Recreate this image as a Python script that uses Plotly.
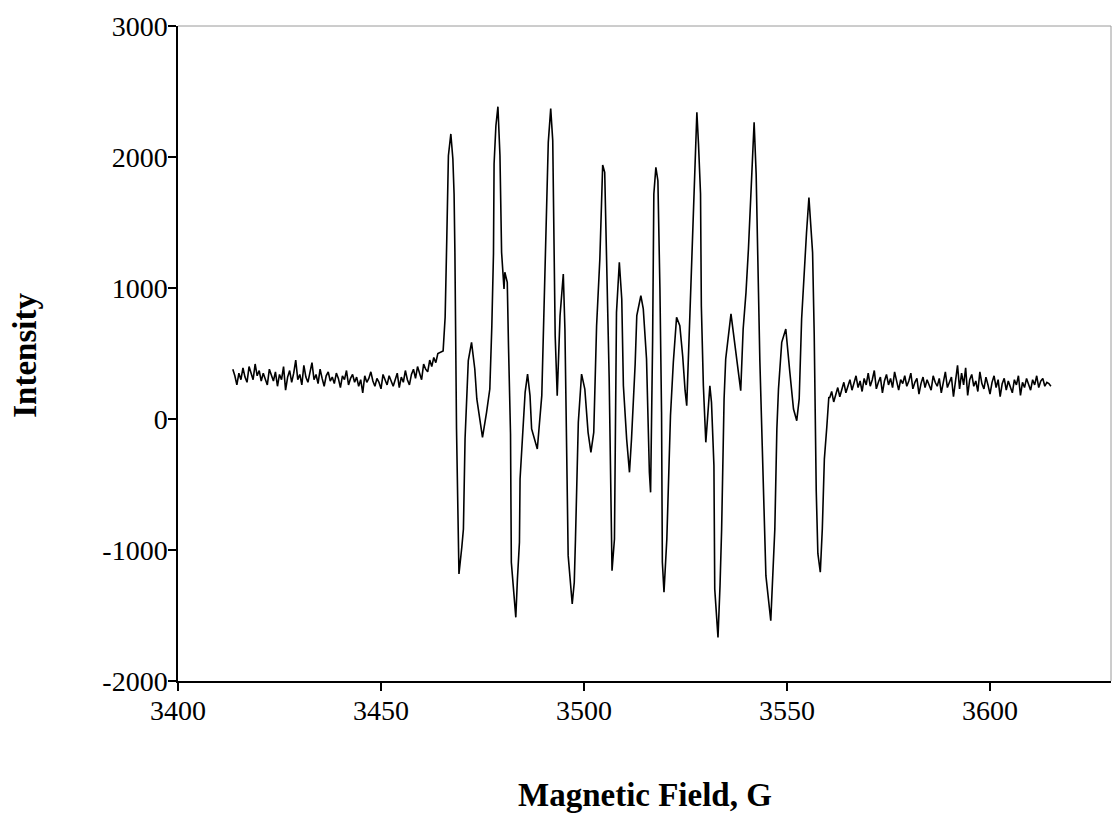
import plotly.graph_objects as go

# ---- data (field in G, intensity in a.u.) ----
left_field = [
    3413.5, 3414.0, 3414.5, 3415.0, 3415.5, 3416.0, 3416.5, 3417.0, 3417.5, 3418.0,
    3418.5, 3419.0, 3419.5, 3420.0, 3420.5, 3421.0, 3421.5, 3422.0, 3422.5, 3423.0,
    3423.5, 3424.0, 3424.5, 3425.0, 3425.5, 3426.0, 3426.5, 3427.0, 3427.5, 3428.0,
    3428.5, 3429.0, 3429.5, 3430.0, 3430.5, 3431.0, 3431.5, 3432.0, 3432.5, 3433.0,
    3433.5, 3434.0, 3434.5, 3435.0, 3435.5, 3436.0, 3436.5, 3437.0, 3437.5, 3438.0,
    3438.5, 3439.0, 3439.5, 3440.0, 3440.5, 3441.0, 3441.5, 3442.0, 3442.5, 3443.0,
    3443.5, 3444.0, 3444.5, 3445.0, 3445.5, 3446.0, 3446.5, 3447.0, 3447.5, 3448.0,
    3448.5, 3449.0, 3449.5, 3450.0, 3450.5, 3451.0, 3451.5, 3452.0, 3452.5, 3453.0,
    3453.5, 3454.0, 3454.5, 3455.0, 3455.5, 3456.0, 3456.5, 3457.0, 3457.5, 3458.0,
    3458.5, 3459.0, 3459.5, 3460.0, 3460.5, 3461.0, 3461.5, 3462.0, 3462.5, 3463.0,
    3463.5, 3464.0,
]
left_intensity = [
    380, 330, 260, 350, 300, 390, 320, 280, 400, 350,
    300, 420, 330, 370, 290, 350, 310, 260, 380, 330,
    290, 360, 250, 340, 300, 400, 220, 320, 370, 280,
    350, 450, 300, 340, 260, 410, 320, 280, 360, 430,
    300, 340, 270, 380, 310, 250, 330, 360, 290, 320,
    270, 350, 310, 240, 330, 300, 370, 260, 310, 340,
    280, 320, 250, 300, 200, 330, 280, 310, 360, 290,
    250, 310, 280, 230, 340, 300, 260, 330, 290, 250,
    300, 350, 240, 320, 280, 370, 300, 260, 340, 380,
    310, 400, 350, 300, 420, 380, 360, 450, 400, 470,
    430, 500,
]

signal_field = [
    3465.3, 3465.8, 3466.2, 3466.6, 3467.2, 3467.7, 3468.0, 3468.2, 3468.6, 3469.0,
    3469.2, 3469.9, 3470.3, 3470.7, 3471.5, 3472.3, 3473.1, 3473.6, 3474.4, 3475.0,
    3476.0, 3476.8, 3477.3, 3477.7, 3477.85, 3478.3, 3478.8, 3479.3, 3479.7, 3480.3,
    3480.5, 3481.1, 3481.4, 3481.9, 3482.1, 3483.2, 3483.6, 3484.1, 3484.25, 3484.9,
    3485.5, 3486.1, 3486.7, 3487.1, 3488.5, 3489.6, 3490.4, 3491.2, 3491.8, 3492.3,
    3492.9, 3493.4, 3494.1, 3494.9, 3495.3, 3495.7, 3496.1, 3497.1, 3497.6, 3497.9,
    3498.2, 3498.6, 3499.4, 3500.2, 3501.0, 3501.7, 3502.4, 3503.1, 3503.9, 3504.3,
    3504.6, 3505.1, 3505.6, 3506.2, 3506.9, 3507.5, 3508.0, 3508.7, 3509.3, 3509.7,
    3510.5, 3511.2, 3511.7, 3512.1, 3512.6, 3513.0, 3514.0, 3514.6, 3515.4, 3516.1,
    3516.4, 3516.9, 3517.2, 3517.7, 3518.2, 3518.7, 3519.1, 3519.3, 3519.7, 3520.4,
    3520.8, 3521.3, 3522.0, 3522.8, 3523.6, 3524.3, 3524.9, 3525.3, 3526.1, 3526.5,
    3527.2, 3527.8, 3528.2, 3528.7, 3528.9, 3529.4, 3530.0, 3531.0, 3531.4, 3532.0,
    3532.2, 3533.0, 3533.5, 3533.9, 3534.5, 3534.9, 3536.2, 3536.9, 3537.6, 3538.6,
    3539.2, 3539.9, 3540.5, 3541.3, 3541.9, 3542.4, 3542.9, 3543.3, 3543.9, 3544.8,
    3546.0, 3546.6, 3547.0, 3547.5, 3547.9, 3548.7, 3549.7, 3550.7, 3551.6, 3552.4,
    3553.0, 3553.6, 3554.4, 3554.8, 3555.4, 3556.3, 3556.7, 3557.2, 3557.6, 3558.2,
    3558.7, 3559.2, 3559.8, 3560.3,
]
signal_intensity = [
    520, 779, 1374, 2010, 2176, 1985, 1718, 1275, -76, -840,
    -1183, -979, -840, -153, 445, 585, 382, 153, 0, -140,
    51, 229, 712, 1260, 1947, 2239, 2384, 2010, 1272, 992,
    1120, 1043, 560, -115, -1094, -1514, -1221, -941, -458, -127,
    204, 343, 178, -76, -229, 178, 1120, 2112, 2369, 2125,
    636, 178, 789, 1107, 687, -25, -1043, -1412, -1247, -916,
    -407, -25, 343, 229, -102, -254, -102, 712, 1221, 1743,
    1939, 1883, 1094, 305, -1158, -916, 814, 1196, 916, 254,
    -153, -407, -153, 76, 420, 789, 941, 840, 458, -407,
    -560, 600, 1718, 1921, 1819, 992, 51, -1094, -1323, -916,
    -407, 25, 433, 776, 712, 483, 216, 102, 814, 1170,
    1807, 2341, 2099, 1718, 865, 254, -178, 254, 127, -356,
    -1298, -1667, -1272, -840, 153, 458, 802, 636, 483, 216,
    687, 967, 1298, 1896, 2265, 1870, 1069, 458, -204, -1196,
    -1540, -1069, -840, -76, 229, 585, 687, 356, 76, -13,
    153, 763, 1247, 1420, 1691, 1270, 645, -550, -1026, -1170,
    -836, -306, -61, 168,
]

right_field = [
    3560.5, 3561.0, 3561.5, 3562.0, 3562.5, 3563.0, 3563.5, 3564.0, 3564.5, 3565.0,
    3565.5, 3566.0, 3566.5, 3567.0, 3567.5, 3568.0, 3568.5, 3569.0, 3569.5, 3570.0,
    3570.5, 3571.0, 3571.5, 3572.0, 3572.5, 3573.0, 3573.5, 3574.0, 3574.5, 3575.0,
    3575.5, 3576.0, 3576.5, 3577.0, 3577.5, 3578.0, 3578.5, 3579.0, 3579.5, 3580.0,
    3580.5, 3581.0, 3581.5, 3582.0, 3582.5, 3583.0, 3583.5, 3584.0, 3584.5, 3585.0,
    3585.5, 3586.0, 3586.5, 3587.0, 3587.5, 3588.0, 3588.5, 3589.0, 3589.5, 3590.0,
    3590.5, 3591.0, 3591.5, 3592.0, 3592.5, 3593.0, 3593.5, 3594.0, 3594.5, 3595.0,
    3595.5, 3596.0, 3596.5, 3597.0, 3597.5, 3598.0, 3598.5, 3599.0, 3599.5, 3600.0,
    3600.5, 3601.0, 3601.5, 3602.0, 3602.5, 3603.0, 3603.5, 3604.0, 3604.5, 3605.0,
    3605.5, 3606.0, 3606.5, 3607.0, 3607.5, 3608.0, 3608.5, 3609.0, 3609.5, 3610.0,
    3610.5, 3611.0, 3611.5, 3612.0, 3612.5, 3613.0, 3613.5, 3614.0, 3614.5, 3615.0,
]
right_intensity = [
    160, 210, 130, 190, 240, 170, 230, 280, 200, 250,
    300, 220, 270, 330, 240, 290, 210, 310, 260, 350,
    250, 300, 370, 230, 280, 320, 200, 290, 340, 260,
    310, 240, 360, 280, 220, 300, 270, 330, 250, 290,
    350, 230, 280, 310, 190, 270, 320, 240, 300, 260,
    220, 330, 280, 250, 310, 200, 290, 360, 240, 280,
    320, 170, 300, 410, 230, 350, 260, 390, 180, 300,
    340, 250, 290, 210, 360, 270, 230, 320, 260, 190,
    280, 330, 240, 300, 170, 270, 310, 220, 290, 250,
    200, 300, 260, 330, 180, 280, 240, 310, 270, 220,
    300, 260, 330, 240, 290, 310, 250, 280, 270, 250,
]

x_ticks = [3400, 3450, 3500, 3550, 3600]
y_ticks = [-2000, -1000, 0, 1000, 2000, 3000]
x_title = "Magnetic Field, G"
y_title = "Intensity"

field = left_field + signal_field + right_field
intensity = left_intensity + signal_intensity + right_intensity

FONT = "Liberation Serif, Times New Roman, serif"

fig = go.Figure()
fig.add_trace(go.Scatter(
    x=field, y=intensity, mode="lines",
    line=dict(color="black", width=1.6),
    showlegend=False, hoverinfo="skip",
))

fig.update_layout(
    width=1113, height=814,
    margin=dict(l=178, r=2, t=26, b=133),
    paper_bgcolor="white", plot_bgcolor="white",
    font=dict(family=FONT, color="black", size=28),
    xaxis=dict(
        range=[3400, 3629.8], tickmode="array", tickvals=x_ticks,
        ticktext=[str(v) for v in x_ticks],
        showgrid=False, zeroline=False,
        showline=True, linecolor="black", linewidth=1.5,
        ticks="outside", ticklen=8, tickwidth=1.5, tickcolor="black",
        ticklabelstandoff=-4,
        tickfont=dict(family=FONT, size=28, color="black"),
    ),
    yaxis=dict(
        range=[-2000, 3000], tickmode="array", tickvals=y_ticks,
        ticktext=[str(v) for v in y_ticks],
        showgrid=False, zeroline=False,
        showline=True, linecolor="black", linewidth=1.5,
        ticks="outside", ticklen=8, tickwidth=1.5, tickcolor="black",
        ticklabelstandoff=-5,
        tickfont=dict(family=FONT, size=28, color="black"),
    ),
    shapes=[
        dict(type="line", xref="paper", yref="paper", x0=0, x1=1, y0=1, y1=1,
             line=dict(color="#9a9a9a", width=1)),
        dict(type="line", xref="paper", yref="paper", x0=1, x1=1, y0=0, y1=1,
             line=dict(color="#9a9a9a", width=1)),
    ],
    annotations=[
        dict(text=f"<b>{x_title}</b>", xref="paper", yref="paper",
             x=0.5005, y=-0.174, xanchor="center", yanchor="middle",
             showarrow=False, font=dict(family=FONT, size=33, color="black")),
        dict(text=f"<b>{y_title}</b>", xref="paper", yref="paper",
             x=-0.164, y=0.498, xanchor="center", yanchor="middle",
             textangle=-90, showarrow=False,
             font=dict(family=FONT, size=33, color="black")),
    ],
)

fig.write_html("out.html", config={"displayModeBar": False})

# remove the browser's default page margin so the figure sits at (0, 0)
with open("out.html", "r", encoding="utf-8") as fh:
    html = fh.read()
html = html.replace("<head>", "<head><style>html,body{margin:0;padding:0;overflow:hidden;}</style>", 1)
with open("out.html", "w", encoding="utf-8") as fh:
    fh.write(html)
